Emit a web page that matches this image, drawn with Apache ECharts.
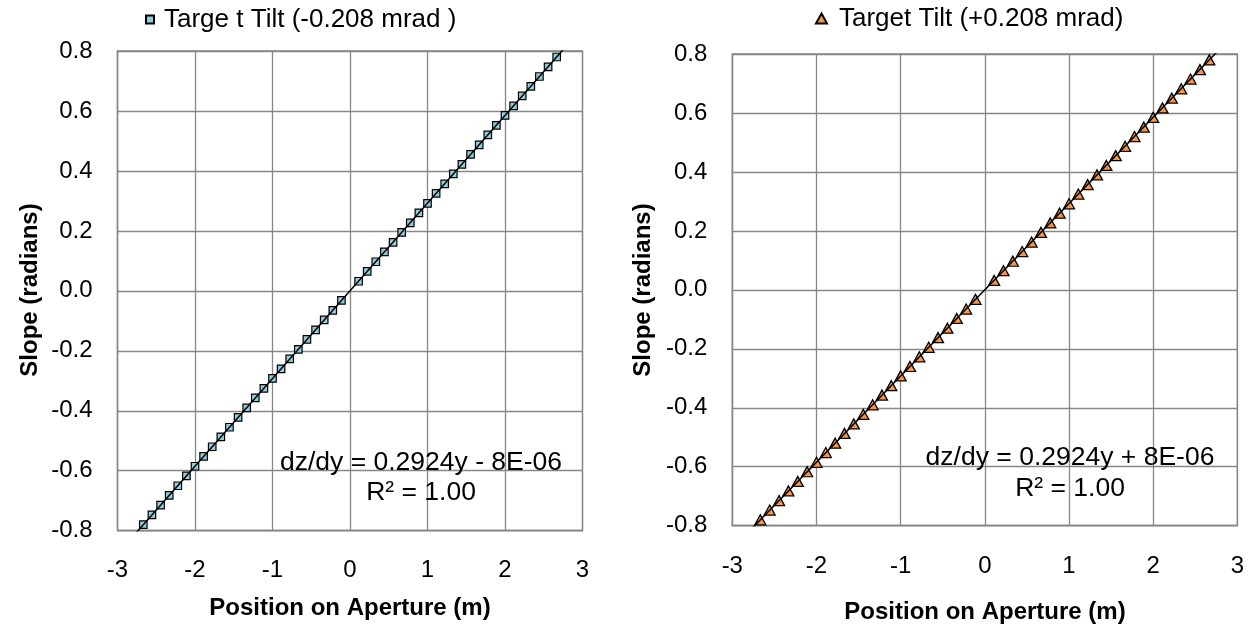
<!DOCTYPE html>
<html>
<head>
<meta charset="utf-8">
<script src="https://cdn.jsdelivr.net/npm/echarts@6/dist/echarts.min.js"></script>
<style>
html,body{margin:0;padding:0;background:#fff;}
#chart{width:1250px;height:634px;}
</style>
</head>
<body>
<div id="chart"></div>
<script>
// ---- data ----
const positions = [-2.667,-2.556,-2.444,-2.333,-2.222,-2.111,-2.000,-1.889,-1.778,-1.667,-1.556,-1.444,-1.333,-1.222,-1.111,-1.000,-0.889,-0.778,-0.667,-0.556,-0.444,-0.333,-0.222,-0.111,
  0.111,0.222,0.333,0.444,0.556,0.667,0.778,0.889,1.000,1.111,1.222,1.333,1.444,1.556,1.667,1.778,1.889,2.000,2.111,2.222,2.333,2.444,2.556,2.667];
const slopeNegTilt = [-0.780,-0.747,-0.715,-0.682,-0.650,-0.617,-0.585,-0.552,-0.520,-0.487,-0.455,-0.422,-0.390,-0.357,-0.325,-0.292,-0.260,-0.227,-0.195,-0.162,-0.130,-0.097,-0.065,-0.032,
  0.032,0.065,0.097,0.130,0.162,0.195,0.227,0.260,0.292,0.325,0.357,0.390,0.422,0.455,0.487,0.520,0.552,0.585,0.617,0.650,0.682,0.715,0.747,0.780];
const slopePosTilt = [-0.780,-0.747,-0.715,-0.682,-0.650,-0.617,-0.585,-0.552,-0.520,-0.487,-0.455,-0.422,-0.390,-0.357,-0.325,-0.292,-0.260,-0.227,-0.195,-0.162,-0.130,-0.097,-0.065,-0.032,
  0.032,0.065,0.097,0.130,0.162,0.195,0.227,0.260,0.292,0.325,0.357,0.390,0.422,0.455,0.487,0.520,0.552,0.585,0.617,0.650,0.682,0.715,0.747,0.780];
const trendX = [-2.8, 2.8];
const trendNegY = [-0.819, 0.819];
const trendPosY = [-0.819, 0.819];
const xTicks = [-3,-2,-1,0,1,2,3];
const yTicks = ['-0.8','-0.6','-0.4','-0.2','0.0','0.2','0.4','0.6','0.8'];
const seriesNames = ['Targe t Tilt (-0.208 mrad )', 'Target Tilt (+0.208 mrad)'];
const eqTexts = ['dz/dy = 0.2924y - 8E-06', 'dz/dy = 0.2924y + 8E-06'];
const r2Text = 'R² = 1.00';
const yTitle = 'Slope (radians)';
const xTitle = 'Position on Aperture (m)';

const FONT = '"Liberation Sans", Arial, sans-serif';
const GRIDC = '#878787';
const TICKFS = 24;
const zip = (a, b) => a.map((v, i) => [v, b[i]]);

function xAxis(gi, margin) {
  return {
    gridIndex: gi, type: 'value', min: xTicks[0], max: xTicks[xTicks.length - 1], interval: 1,
    axisLine: {show: true, onZero: false, lineStyle: {color: GRIDC, width: 1.3}},
    axisTick: {show: false},
    splitLine: {show: true, lineStyle: {color: GRIDC, width: 1.3}},
    axisLabel: {color: '#000', fontFamily: FONT, fontSize: TICKFS, margin: margin}
  };
}
function yAxis(gi) {
  return {
    gridIndex: gi, type: 'value', min: Number(yTicks[0]), max: Number(yTicks[yTicks.length - 1]), interval: 0.2,
    axisLine: {show: true, onZero: false, lineStyle: {color: GRIDC, width: 1.3}},
    axisTick: {show: false},
    splitLine: {show: true, lineStyle: {color: GRIDC, width: 1.3}},
    axisLabel: {color: '#000', fontFamily: FONT, fontSize: TICKFS, margin: 25,
      formatter: v => yTicks[Math.round((v - Number(yTicks[0])) / 0.2)]}
  };
}

const chart = echarts.init(document.getElementById('chart'), null, {renderer: 'canvas'});
chart.setOption({
  animation: false,
  backgroundColor: '#fff',
  grid: [
    {left: 117.5, top: 51, width: 465, height: 479.7, show: true, borderColor: GRIDC, borderWidth: 1.3},
    {left: 732.3, top: 54, width: 505, height: 471.7, show: true, borderColor: GRIDC, borderWidth: 1.3}
  ],
  xAxis: [xAxis(0, 28), xAxis(1, 29)],
  yAxis: [yAxis(0), yAxis(1)],
  legend: [
    {data: [seriesNames[0]], left: 145, top: 6, padding: 0, itemWidth: 8, itemHeight: 8, icon: 'rect',
      textStyle: {fontFamily: FONT, fontSize: 26, lineHeight: 27, color: '#000', padding: [0, 0, 0, 5]}},
    {data: [seriesNames[1]], left: 815, top: 5, padding: 0, itemWidth: 11, itemHeight: 10, icon: 'triangle',
      textStyle: {fontFamily: FONT, fontSize: 26, lineHeight: 27, color: '#000', padding: [0, 0, 0, 7]}}
  ],
  series: [
    {name: seriesNames[0], type: 'scatter', xAxisIndex: 0, yAxisIndex: 0, symbol: 'rect', symbolSize: 7.5,
      itemStyle: {color: '#93CDDD', borderColor: '#000', borderWidth: 1.2, opacity: 1},
      data: zip(positions, slopeNegTilt), z: 3},
    {type: 'line', xAxisIndex: 0, yAxisIndex: 0, symbol: 'none', silent: true, clip: true,
      lineStyle: {color: '#000', width: 1.5}, data: zip(trendX, trendNegY), z: 4},
    {name: seriesNames[1], type: 'scatter', xAxisIndex: 1, yAxisIndex: 1, symbol: 'triangle', symbolSize: [11, 10],
      itemStyle: {color: '#F79646', borderColor: '#000', borderWidth: 1.3, opacity: 1},
      data: zip(positions, slopePosTilt), z: 3},
    {type: 'line', xAxisIndex: 1, yAxisIndex: 1, symbol: 'none', silent: true, clip: true,
      lineStyle: {color: '#000', width: 1.5}, data: zip(trendX, trendPosY), z: 4}
  ],
  graphic: [
    {type: 'text', x: 421, y: 463, z: 10, style: {text: eqTexts[0], font: '26.5px ' + FONT, fill: '#000', align: 'center', verticalAlign: 'middle'}},
    {type: 'text', x: 421, y: 493, z: 10, style: {text: r2Text, font: '26.5px ' + FONT, fill: '#000', align: 'center', verticalAlign: 'middle'}},
    {type: 'text', x: 1070, y: 458, z: 10, style: {text: eqTexts[1], font: '26.5px ' + FONT, fill: '#000', align: 'center', verticalAlign: 'middle'}},
    {type: 'text', x: 1070, y: 489, z: 10, style: {text: r2Text, font: '26.5px ' + FONT, fill: '#000', align: 'center', verticalAlign: 'middle'}},
    {type: 'text', x: 350, y: 608, style: {text: xTitle, font: 'bold 24px ' + FONT, fill: '#000', align: 'center', verticalAlign: 'middle'}},
    {type: 'text', x: 985, y: 612, style: {text: xTitle, font: 'bold 24px ' + FONT, fill: '#000', align: 'center', verticalAlign: 'middle'}},
    {type: 'text', x: 30, y: 290, rotation: Math.PI / 2, style: {text: yTitle, font: 'bold 24px ' + FONT, fill: '#000', align: 'center', verticalAlign: 'middle'}},
    {type: 'text', x: 643, y: 290, rotation: Math.PI / 2, style: {text: yTitle, font: 'bold 24px ' + FONT, fill: '#000', align: 'center', verticalAlign: 'middle'}}
  ]
});
</script>
</body>
</html>
